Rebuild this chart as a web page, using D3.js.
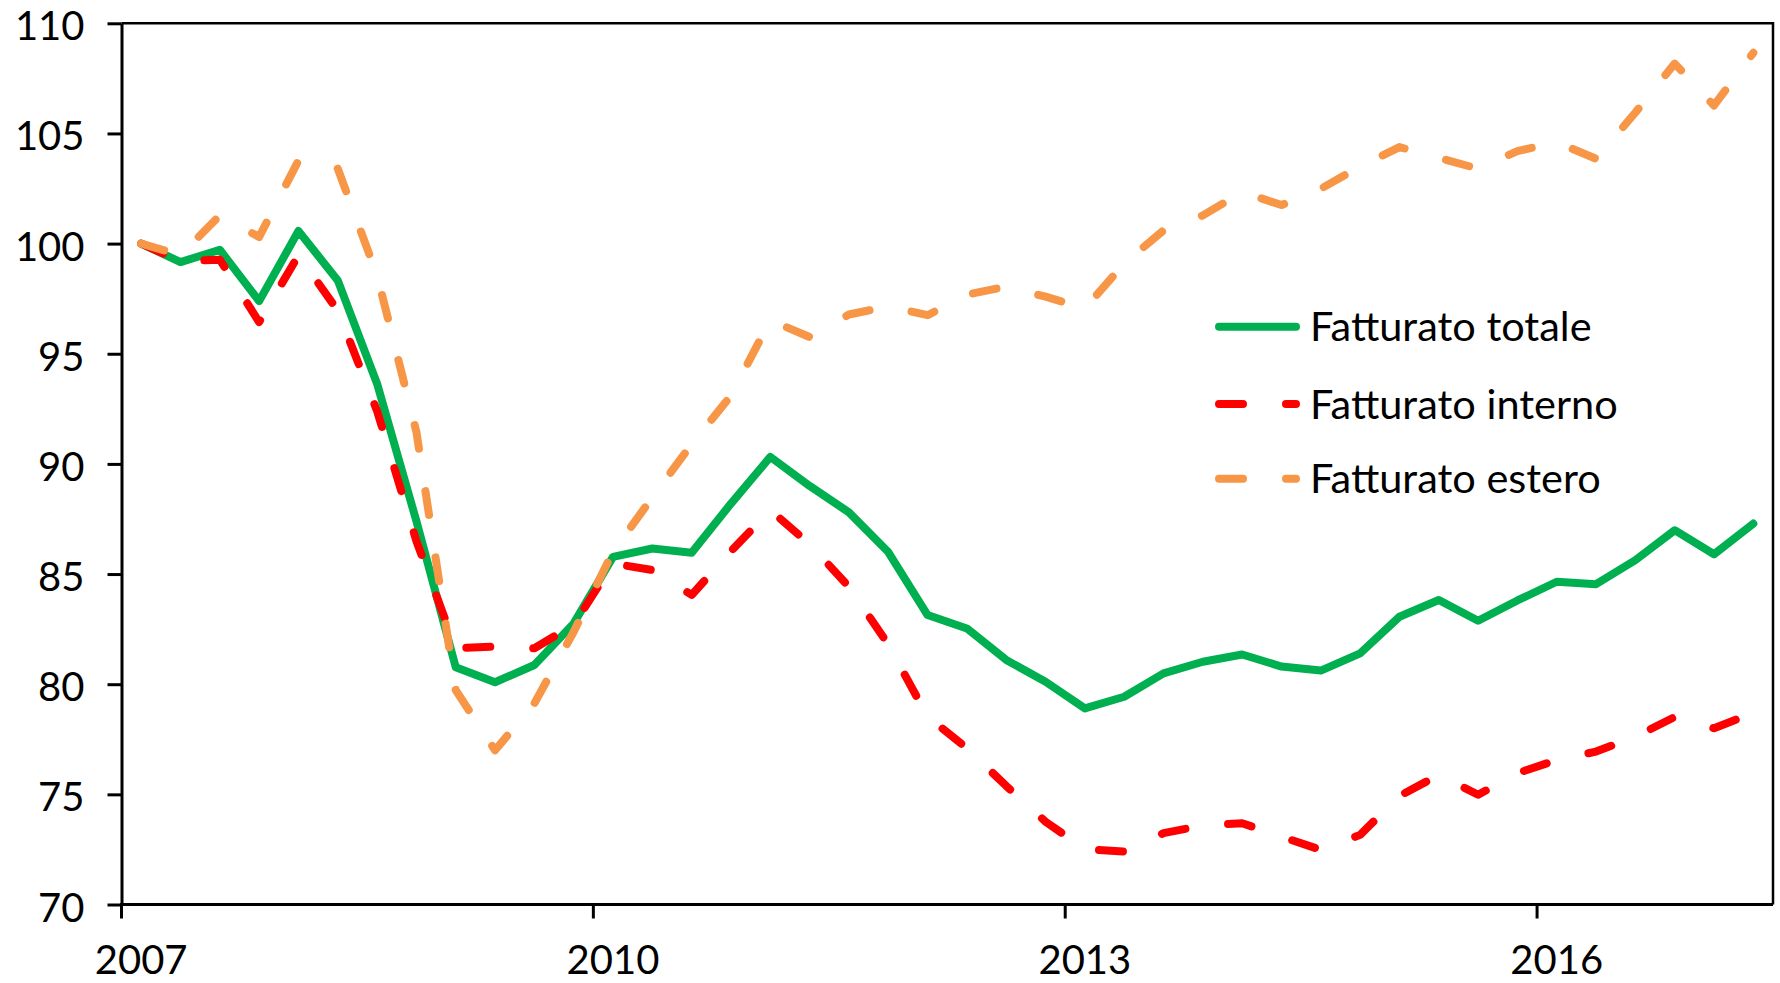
<!DOCTYPE html>
<html><head><meta charset="utf-8">
<script src="https://cdn.jsdelivr.net/npm/d3@7"></script>
<style>
body{margin:0;background:#fff}
svg{display:block}
text{font-family:Lato,"Open Sans",sans-serif;fill:#000}
</style></head>
<body>
<svg id="c" width="1780" height="983"></svg>
<script>
const quarters = ["2007Q1","2007Q2","2007Q3","2007Q4","2008Q1","2008Q2","2008Q3","2008Q4",
"2009Q1","2009Q2","2009Q3","2009Q4","2010Q1","2010Q2","2010Q3","2010Q4",
"2011Q1","2011Q2","2011Q3","2011Q4","2012Q1","2012Q2","2012Q3","2012Q4",
"2013Q1","2013Q2","2013Q3","2013Q4","2014Q1","2014Q2","2014Q3","2014Q4",
"2015Q1","2015Q2","2015Q3","2015Q4","2016Q1","2016Q2","2016Q3","2016Q4",
"2017Q1","2017Q2"];

const totale = [100.0,99.16,99.72,97.39,100.57,98.33,93.64,87.4,
80.77,80.09,80.87,82.76,85.78,86.16,85.97,88.2,
90.32,89.0,87.8,86.0,83.14,82.53,81.1,80.11,
78.9,79.43,80.49,81.02,81.35,80.8,80.62,81.4,
83.06,83.82,82.88,83.8,84.65,84.54,85.63,86.99,
85.9,87.29];

const interno = [100.0,99.2,99.27,96.44,99.47,96.96,92.4,86.5,
81.63,81.71,81.63,82.7,85.48,85.18,84.05,86.04,
87.9,86.36,84.42,81.8,78.53,77.09,75.38,73.76,
72.51,72.4,73.24,73.59,73.69,73.08,72.48,73.16,
74.93,75.88,74.98,75.96,76.56,76.94,77.62,78.51,
78.0,78.7];

const estero = [100.0,99.47,101.28,100.3,103.77,103.4,98.56,91.45,
79.73,77.0,79.13,82.38,86.02,88.48,90.9,93.1,
96.52,95.76,96.78,97.15,96.75,97.68,98.05,97.59,
97.05,99.1,100.6,101.28,102.34,101.75,102.49,103.5,
104.38,103.89,103.4,104.2,104.6,103.85,105.95,108.17,
106.27,108.66];

const seriesNames = ["Fatturato totale","Fatturato interno","Fatturato estero"];
const seriesColors = ["#00B050","#FF0000","#F79646"];
const yTicks = [70,75,80,85,90,95,100,105,110];
const xTickQuarters = ["2007Q1","2010Q1","2013Q1","2016Q1"];
const xTickLabels = ["2007","2010","2013","2016"];

const svg = d3.select("#c");
const L = 121.5, R = 1773, T = 23.3, B = 904.5;
const x = d3.scaleBand().domain(quarters).range([L, R]).padding(0);
const bw = x.bandwidth();
const y = d3.scaleLinear().domain([70,110]).range([B, T]);
const cx = q => x(q) + bw/2;

// frame (top/right)
svg.append("path").attr("d", `M${L},${T}H${R}V${B}`).attr("fill","none")
  .attr("stroke","#000").attr("stroke-width",2.5);

// y axis
const yAxis = svg.append("g").attr("transform",`translate(${L},0)`)
  .call(d3.axisLeft(y).tickValues(yTicks).tickSize(14).tickSizeOuter(0).tickPadding(23));
yAxis.select(".domain").attr("stroke","#000").attr("stroke-width",3);
yAxis.selectAll(".tick line").attr("stroke","#000").attr("stroke-width",3);
yAxis.selectAll(".tick text").attr("font-family","Lato").attr("font-size",40)
  .attr("fill","#000").attr("dy","16.5px");

// x axis
svg.append("line").attr("x1",L-1.5).attr("x2",R).attr("y1",B).attr("y2",B)
  .attr("stroke","#000").attr("stroke-width",3);
const xt = svg.append("g").selectAll("g").data(xTickQuarters).join("g");
xt.append("line").attr("x1",d=>x(d)).attr("x2",d=>x(d)).attr("y1",B).attr("y2",B+14)
  .attr("stroke","#000").attr("stroke-width",3);
xt.append("text").attr("x",d=>cx(d)).attr("y",974).attr("text-anchor","middle")
  .attr("font-size",40).text((d,i)=>xTickLabels[i]);

// lines
const data = [totale, interno, estero];
const line = d3.line().x((d,i)=>cx(quarters[i])).y(d=>y(d));
data.forEach((vals,k)=>{
  const p = svg.append("path").datum(vals).attr("d",line).attr("fill","none")
    .attr("stroke",seriesColors[k]).attr("stroke-width",8)
    .attr("stroke-linejoin","round").attr("stroke-linecap","round");
  if(k>0) p.attr("stroke-dasharray","24,43");
});

// legend
const legY = [326.7, 404, 478.7];
const lg = svg.append("g").selectAll("g").data(seriesNames).join("g");
lg.append("line").attr("x1",1219).attr("x2",1296).attr("y1",(d,i)=>legY[i]).attr("y2",(d,i)=>legY[i])
  .attr("stroke",(d,i)=>seriesColors[i]).attr("stroke-width",8).attr("stroke-linecap","round")
  .attr("stroke-dasharray",(d,i)=>i>0?"24,43":null);
lg.append("text").attr("x",1310).attr("y",(d,i)=>legY[i]+14.5).attr("font-size",41.5).text(d=>d);
</script>
</body></html>
